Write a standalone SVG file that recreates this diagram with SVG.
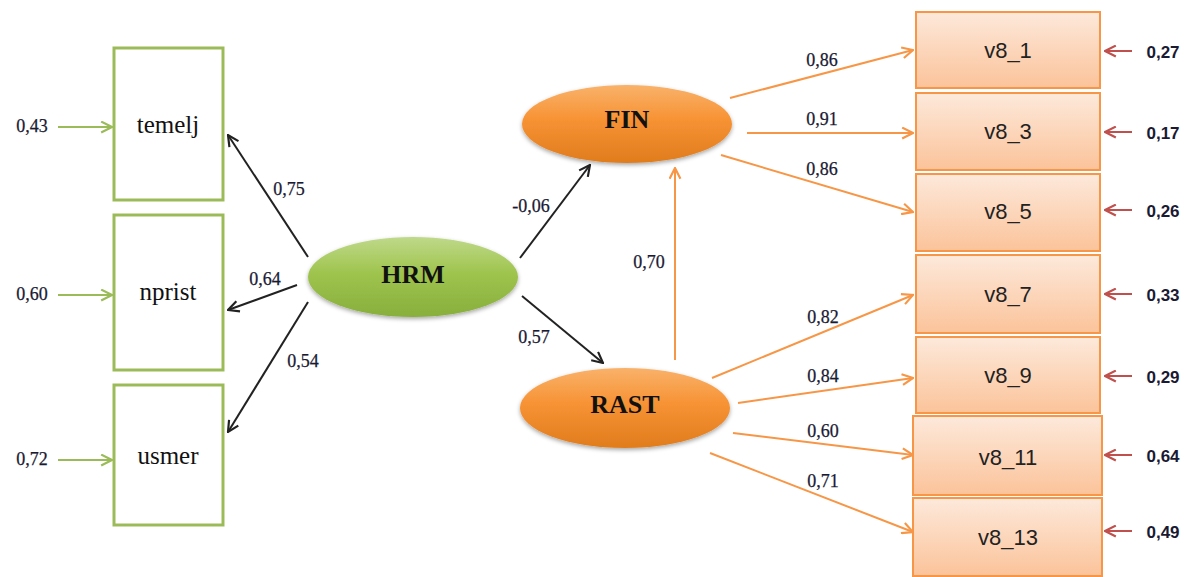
<svg xmlns="http://www.w3.org/2000/svg" width="1189" height="577" viewBox="0 0 1189 577">
<style>
.gbox{fill:#fff;stroke:#9BBB59;stroke-width:3}
.obox{fill:url(#boxg);stroke:#F79646;stroke-width:2}
.ntext{font-family:"Liberation Serif",serif;font-size:25px;fill:#111;text-anchor:middle}
.etext{font-family:"Liberation Serif",serif;font-size:26px;font-weight:bold;fill:#111;text-anchor:middle}
.vtext{font-family:"Liberation Sans",sans-serif;font-size:22px;fill:#222;text-anchor:middle}
.lbl{font-family:"Liberation Serif",serif;font-size:18px;fill:#1a1a33;text-anchor:middle;stroke:#1a1a33;stroke-width:0.25}
.rl{font-family:"Liberation Sans",sans-serif;font-size:17px;font-weight:bold;fill:#1a1a33;text-anchor:middle}
.blk{stroke:#222;stroke-width:2;fill:none;marker-end:url(#ab)}
.org{stroke:#F79646;stroke-width:2;fill:none;marker-end:url(#ao)}
.grn{stroke:#9BBB59;stroke-width:2.2;fill:none;marker-end:url(#ag)}
.red{stroke:#C0504D;stroke-width:2;fill:none;marker-end:url(#ar)}
</style>
<defs>
<marker id="ab" viewBox="0 0 12 12" refX="11" refY="6" markerWidth="13" markerHeight="13" markerUnits="userSpaceOnUse" orient="auto"><path d="M1,1 L11,6 L1,11" fill="none" stroke="#222" stroke-width="2"/></marker>
<marker id="ao" viewBox="0 0 12 12" refX="11" refY="6" markerWidth="13" markerHeight="13" markerUnits="userSpaceOnUse" orient="auto"><path d="M1,1 L11,6 L1,11" fill="none" stroke="#F79646" stroke-width="2"/></marker>
<marker id="ag" viewBox="0 0 12 12" refX="11" refY="6" markerWidth="13" markerHeight="13" markerUnits="userSpaceOnUse" orient="auto"><path d="M1,1 L11,6 L1,11" fill="none" stroke="#9BBB59" stroke-width="2"/></marker>
<marker id="ar" viewBox="0 0 12 12" refX="11" refY="6" markerWidth="13" markerHeight="13" markerUnits="userSpaceOnUse" orient="auto"><path d="M1,1 L11,6 L1,11" fill="none" stroke="#C0504D" stroke-width="2"/></marker>
<linearGradient id="boxg" x1="0" y1="0" x2="0" y2="1"><stop offset="0" stop-color="#FDE9DB"/><stop offset="1" stop-color="#FBC39A"/></linearGradient>
<linearGradient id="og" x1="0" y1="0" x2="0" y2="1"><stop offset="0" stop-color="#F9B26A"/><stop offset="0.45" stop-color="#F79234"/><stop offset="1" stop-color="#E07C1C"/></linearGradient>
<linearGradient id="gg" x1="0" y1="0" x2="0" y2="1"><stop offset="0" stop-color="#BFD98A"/><stop offset="0.45" stop-color="#9FC44E"/><stop offset="1" stop-color="#88AE3C"/></linearGradient>
<filter id="sh" x="-10%" y="-20%" width="120%" height="150%"><feDropShadow dx="0" dy="2" stdDeviation="2" flood-color="#000" flood-opacity="0.35"/></filter>
</defs>

<g id="connectors">
<path class="grn" d="M58,127 L112,127"/>
<path class="grn" d="M58,295 L112,295"/>
<path class="grn" d="M58,460 L112,460"/>
<path class="blk" d="M308,257 L228,135"/>
<path class="blk" d="M297,285 L228,310"/>
<path class="blk" d="M308,302 L228,432"/>
<path class="blk" d="M520,258 L590,165"/>
<path class="blk" d="M522,296 L603,363"/>
<path class="org" d="M675,360 L675,168"/>
<path class="org" d="M730,98 L913,50"/>
<path class="org" d="M747,133 L913,133"/>
<path class="org" d="M721,155 L913,212"/>
<path class="org" d="M712,378 L913,295"/>
<path class="org" d="M738,403 L913,378"/>
<path class="org" d="M733,433 L913,455"/>
<path class="org" d="M710,453 L913,532"/>
<path class="red" d="M1132,51 L1105,51"/>
<path class="red" d="M1132,132 L1105,132"/>
<path class="red" d="M1132,210 L1105,210"/>
<path class="red" d="M1132,294 L1105,294"/>
<path class="red" d="M1132,376 L1105,376"/>
<path class="red" d="M1132,455 L1105,455"/>
<path class="red" d="M1132,531 L1105,531"/>
<text class="lbl" x="289" y="195">0,75</text>
<text class="lbl" x="265" y="285">0,64</text>
<text class="lbl" x="303" y="367">0,54</text>
<text class="lbl" x="531" y="212">-0,06</text>
<text class="lbl" x="534" y="343">0,57</text>
<text class="lbl" x="649" y="268">0,70</text>
<text class="lbl" x="822" y="66">0,86</text>
<text class="lbl" x="822" y="125">0,91</text>
<text class="lbl" x="822" y="175">0,86</text>
<text class="lbl" x="823" y="323">0,82</text>
<text class="lbl" x="823" y="382">0,84</text>
<text class="lbl" x="823" y="437">0,60</text>
<text class="lbl" x="823" y="487">0,71</text>
<text class="lbl" x="32" y="132">0,43</text>
<text class="lbl" x="32" y="300">0,60</text>
<text class="lbl" x="32" y="465">0,72</text>
<text class="rl" x="1163" y="58">0,27</text>
<text class="rl" x="1163" y="139">0,17</text>
<text class="rl" x="1163" y="217">0,26</text>
<text class="rl" x="1163" y="301">0,33</text>
<text class="rl" x="1163" y="383">0,29</text>
<text class="rl" x="1163" y="462">0,64</text>
<text class="rl" x="1163" y="538">0,49</text>
</g>

<g id="temelj"><rect class="gbox" x="114" y="48" width="109" height="152"/><text class="ntext" x="168" y="133">temelj</text></g>
<g id="nprist"><rect class="gbox" x="114" y="215" width="109" height="155"/><text class="ntext" x="168" y="300">nprist</text></g>
<g id="usmer"><rect class="gbox" x="114" y="385" width="109" height="140"/><text class="ntext" x="168" y="464">usmer</text></g>

<g id="HRM"><ellipse cx="413" cy="277" rx="105" ry="40" fill="url(#gg)" filter="url(#sh)"/><text class="etext" x="413" y="283">HRM</text></g>
<g id="FIN"><ellipse cx="627" cy="124" rx="105" ry="39" fill="url(#og)" filter="url(#sh)"/><text class="etext" x="627" y="128">FIN</text></g>
<g id="RAST"><ellipse cx="625" cy="408" rx="105" ry="40" fill="url(#og)" filter="url(#sh)"/><text class="etext" x="625" y="413">RAST</text></g>

<g id="v8_1"><rect class="obox" x="916" y="12" width="184" height="76"/><text class="vtext" x="1008" y="58">v8_1</text></g>
<g id="v8_3"><rect class="obox" x="916" y="93" width="184" height="77"/><text class="vtext" x="1008" y="139">v8_3</text></g>
<g id="v8_5"><rect class="obox" x="916" y="174" width="184" height="77"/><text class="vtext" x="1008" y="219">v8_5</text></g>
<g id="v8_7"><rect class="obox" x="916" y="255" width="184" height="78"/><text class="vtext" x="1008" y="302">v8_7</text></g>
<g id="v8_9"><rect class="obox" x="916" y="337" width="184" height="76"/><text class="vtext" x="1008" y="383">v8_9</text></g>
<g id="v8_11"><rect class="obox" x="913" y="416" width="189" height="79"/><text class="vtext" x="1008" y="465">v8_11</text></g>
<g id="v8_13"><rect class="obox" x="913" y="498" width="189" height="78"/><text class="vtext" x="1008" y="545">v8_13</text></g>
</svg>
